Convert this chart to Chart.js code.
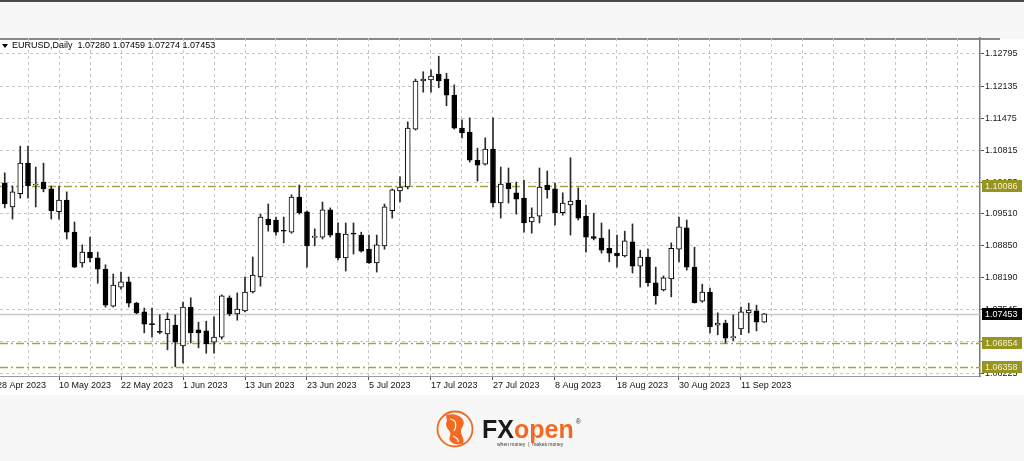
<!DOCTYPE html>
<html>
<head>
<meta charset="utf-8">
<script src="https://cdn.jsdelivr.net/npm/chart.js@4.4.0/dist/chart.umd.min.js"></script>
<style>
  html, body { margin: 0; padding: 0; background: #f7f7f7; }
  canvas { display: block; }
</style>
</head>
<body>
<canvas id="eurusdChart" width="1024" height="461"></canvas>
<script>
// EURUSD daily bars, 1 May - 14 Sep 2023
const dates = [
  '1 May', '2 May', '3 May', '4 May', '5 May', '8 May', '9 May', '10 May', '11 May', '12 May',
  '15 May', '16 May', '17 May', '18 May', '19 May', '22 May', '23 May', '24 May', '25 May', '26 May',
  '29 May', '30 May', '31 May', '1 Jun', '2 Jun', '5 Jun', '6 Jun', '7 Jun', '8 Jun', '9 Jun',
  '12 Jun', '13 Jun', '14 Jun', '15 Jun', '16 Jun', '19 Jun', '20 Jun', '21 Jun', '22 Jun', '23 Jun',
  '26 Jun', '27 Jun', '28 Jun', '29 Jun', '30 Jun', '3 Jul', '4 Jul', '5 Jul', '6 Jul', '7 Jul',
  '10 Jul', '11 Jul', '12 Jul', '13 Jul', '14 Jul', '17 Jul', '18 Jul', '19 Jul', '20 Jul', '21 Jul',
  '24 Jul', '25 Jul', '26 Jul', '27 Jul', '28 Jul', '31 Jul', '1 Aug', '2 Aug', '3 Aug', '4 Aug',
  '7 Aug', '8 Aug', '9 Aug', '10 Aug', '11 Aug', '14 Aug', '15 Aug', '16 Aug', '17 Aug', '18 Aug',
  '21 Aug', '22 Aug', '23 Aug', '24 Aug', '25 Aug', '28 Aug', '29 Aug', '30 Aug', '31 Aug', '1 Sep',
  '4 Sep', '5 Sep', '6 Sep', '7 Sep', '8 Sep', '11 Sep', '12 Sep', '13 Sep', '14 Sep'
];

const opens = [
  1.1014, 1.0965, 1.0992, 1.1055, 1.1010, 1.1016, 1.1002, 1.0955, 1.0979, 1.0913,
  1.0850, 1.0872, 1.0860, 1.0837, 1.0761, 1.0800, 1.0811, 1.0767, 1.0749, 1.0724,
  1.0709, 1.0704, 1.0722, 1.0679, 1.0759, 1.0712, 1.0710, 1.0687, 1.0697, 1.0778,
  1.0745, 1.0751, 1.0790, 1.0821, 1.0940, 1.0938, 1.0916, 1.0913, 1.0985, 1.0955,
  1.0902, 1.0903, 1.0959, 1.0911, 1.0860, 1.0910, 1.0907, 1.0878, 1.0850, 1.0885,
  1.0957, 1.0998, 1.1006, 1.1125, 1.1224, 1.1226, 1.1238, 1.1228, 1.1195, 1.1127,
  1.1119, 1.1061, 1.1053, 1.1084, 1.0973, 1.1014, 1.0994, 1.0983, 1.0934, 1.0946,
  1.1010, 1.1002, 1.0953, 1.0969, 1.0979, 1.0946, 1.0904, 1.0901, 1.0880, 1.0870,
  1.0864, 1.0893, 1.0843, 1.0862, 1.0809, 1.0794, 1.0817, 1.0878, 1.0922, 1.0841,
  1.0771, 1.0790, 1.0722, 1.0726, 1.0696, 1.0714, 1.0747, 1.0751, 1.07280
];
const highs = [
  1.1035, 1.1008, 1.1090, 1.1090, 1.1047, 1.1055, 1.1008, 1.1008, 1.0996, 1.0934,
  1.0887, 1.0903, 1.0872, 1.0846, 1.0827, 1.0831, 1.0821, 1.0769, 1.0757, 1.0757,
  1.0743, 1.0747, 1.0743, 1.0769, 1.0778, 1.0728, 1.0730, 1.0739, 1.0784, 1.0782,
  1.0788, 1.0821, 1.0862, 1.0950, 1.0971, 1.0944, 1.0944, 1.0990, 1.1010, 1.0957,
  1.0920, 1.0975, 1.0963, 1.0932, 1.0932, 1.0932, 1.0913, 1.0907, 1.0907, 1.0971,
  1.1002, 1.1027, 1.1140, 1.1228, 1.1243, 1.1247, 1.1275, 1.1240, 1.1216, 1.1144,
  1.1148, 1.1086, 1.1107, 1.1148, 1.1047, 1.1045, 1.1016, 1.1020, 1.0963, 1.1045,
  1.1039, 1.1014, 1.0994, 1.1066, 1.1004, 1.0969, 1.0952, 1.0932, 1.0918, 1.0907,
  1.0915, 1.0930, 1.0876, 1.0878, 1.0841, 1.0823, 1.0891, 1.0944, 1.0938, 1.0882,
  1.0806, 1.0798, 1.0747, 1.0732, 1.0743, 1.0759, 1.0767, 1.0763, 1.07459
];
const lows = [
  1.0963, 1.0940, 1.0983, 1.0983, 1.0965, 1.0996, 1.0940, 1.0940, 1.0899, 1.0840,
  1.0841, 1.0852, 1.0808, 1.0759, 1.0759, 1.0796, 1.0759, 1.0745, 1.0706, 1.0697,
  1.0704, 1.0671, 1.0636, 1.0644, 1.0685, 1.0675, 1.0664, 1.0664, 1.0693, 1.0741,
  1.0732, 1.0749, 1.0788, 1.0802, 1.0915, 1.0907, 1.0891, 1.0911, 1.0950, 1.0841,
  1.0885, 1.0899, 1.0903, 1.0856, 1.0833, 1.0868, 1.0872, 1.0849, 1.0831, 1.0878,
  1.0942, 1.0975, 1.1002, 1.1123, 1.1201, 1.1201, 1.1210, 1.1173, 1.1125, 1.1107,
  1.1057, 1.1018, 1.1051, 1.0965, 1.0942, 1.0973, 1.0950, 1.0913, 1.0911, 1.0932,
  1.0983, 1.0928, 1.0948, 1.0907, 1.0938, 1.0872, 1.0897, 1.0870, 1.0852, 1.0841,
  1.0862, 1.0829, 1.0800, 1.0802, 1.0765, 1.0792, 1.0780, 1.0852, 1.0835, 1.0767,
  1.0769, 1.0706, 1.0702, 1.0685, 1.0690, 1.0702, 1.0706, 1.0710, 1.07274
];
const closes = [
  1.0971, 1.0996, 1.1055, 1.1008, 1.1012, 1.1002, 1.0957, 1.0979, 1.0913, 1.0841,
  1.0872, 1.0860, 1.0837, 1.0763, 1.0804, 1.0811, 1.0767, 1.0747, 1.0724, 1.0723,
  1.0707, 1.0734, 1.0687, 1.0759, 1.0706, 1.0706, 1.0683, 1.0697, 1.0782, 1.0745,
  1.0755, 1.0790, 1.0825, 1.0944, 1.0928, 1.0913, 1.0915, 1.0985, 1.0953, 1.0885,
  1.0905, 1.0959, 1.0907, 1.0860, 1.0909, 1.0909, 1.0874, 1.0850, 1.0887, 1.0965,
  1.1000, 1.1006, 1.1127, 1.1224, 1.1228, 1.1234, 1.1224, 1.1195, 1.1127, 1.1117,
  1.1061, 1.1051, 1.1084, 1.0973, 1.1012, 1.1002, 1.0981, 1.0932, 1.0944, 1.1006,
  1.1000, 1.0953, 1.0973, 1.0977, 1.0942, 1.0903, 1.0900, 1.0876, 1.0870, 1.0864,
  1.0895, 1.0843, 1.0862, 1.0809, 1.0782, 1.0819, 1.0880, 1.0924, 1.0841, 1.0768,
  1.0790, 1.0718, 1.0726, 1.0695, 1.0698, 1.0749, 1.0753, 1.0728, 1.07453
];

// date labels under the chart, one every 8 bars starting one bar before 1 May
const xTickLabels = [
  '28 Apr 2023', '10 May 2023', '22 May 2023', '1 Jun 2023', '13 Jun 2023', '23 Jun 2023',
  '5 Jul 2023', '17 Jul 2023', '27 Jul 2023', '8 Aug 2023', '18 Aug 2023', '30 Aug 2023', '11 Sep 2023'
];
const yTicks = [1.12795, 1.12135, 1.11475, 1.10815, 1.10155, 1.09510, 1.08850, 1.08190, 1.07545, 1.06885, 1.06225];
const levels = [1.10086, 1.06854, 1.06358];
const lastPrice = 1.07453;
const header = 'EURUSD,Daily  1.07280 1.07459 1.07274 1.07453';

const FONT = '"Liberation Sans", Arial, sans-serif';
const labelIndex = v => ((v + 1) % 8 === 0) ? (v + 1) / 8 : -1;

// frame, level lines, axis boxes, header, logo
const mtDecor = {
  id: 'mtDecor',
  beforeDraw(chart) {
    const c = chart.ctx;
    c.save();
    c.fillStyle = '#f7f7f7';
    c.fillRect(0, 0, chart.width, chart.height);
    c.fillStyle = '#ffffff';
    c.fillRect(0, 39, chart.width, 356);
    c.fillStyle = '#4a4a4a';
    c.fillRect(0, 0, chart.width, 2);
    c.fillStyle = '#8a8a8a';
    c.fillRect(0, 38, 1000, 2);
    c.restore();
  },
  beforeDatasetsDraw(chart) {
    const c = chart.ctx, y = chart.scales.y, a = chart.chartArea;
    c.save();
    c.strokeStyle = '#c8c8c8';
    c.lineWidth = 1.5;
    const py = Math.round(y.getPixelForValue(lastPrice)) + 0.5;
    c.beginPath(); c.moveTo(a.left, py); c.lineTo(a.right, py); c.stroke();
    c.strokeStyle = '#aaa23a';
    c.lineWidth = 1.5;
    c.setLineDash([8, 3, 2, 3]);
    levels.forEach(v => {
      const ly = Math.round(y.getPixelForValue(v)) + 0.5;
      c.beginPath(); c.moveTo(a.left, ly); c.lineTo(a.right, ly); c.stroke();
    });
    c.restore();
  },
  afterDraw(chart) {
    const c = chart.ctx, y = chart.scales.y, a = chart.chartArea;
    c.save();
    c.font = '9px ' + FONT;
    c.textBaseline = 'middle';
    const box = (v, bg, fg) => {
      const by = Math.round(y.getPixelForValue(v));
      c.fillStyle = bg;
      c.fillRect(a.right + 2, by - 6, 40, 12);
      c.fillStyle = fg;
      c.fillText(v.toFixed(5), a.right + 5, by + 0.5);
    };
    levels.forEach(v => box(v, '#979420', '#f4f2d6'));
    box(lastPrice, '#000000', '#ffffff');

    // header line
    c.fillStyle = '#000';
    c.beginPath(); c.moveTo(2, 44); c.lineTo(8, 44); c.lineTo(5, 48); c.closePath(); c.fill();
    c.fillText(header, 12, 46);

    // FXOpen logo
    const orange = '#f26a21';
    c.strokeStyle = orange;
    c.lineWidth = 1.8;
    c.beginPath(); c.arc(455, 429, 17.5, 0, Math.PI * 2); c.stroke();
    c.fillStyle = orange;
    c.beginPath();
    c.moveTo(446, 415); c.bezierCurveTo(458, 412, 468, 420, 462, 428);
    c.bezierCurveTo(458, 433, 466, 438, 463, 444);
    c.bezierCurveTo(455, 446, 447, 442, 450, 436);
    c.bezierCurveTo(453, 431, 443, 428, 447, 421);
    c.closePath(); c.fill();
    c.strokeStyle = '#ffffff';
    c.lineWidth = 1.2;
    c.beginPath(); c.moveTo(450, 419); c.bezierCurveTo(458, 420, 456, 428, 454, 431); c.stroke();
    c.beginPath(); c.moveTo(453, 436); c.bezierCurveTo(457, 438, 459, 440, 458, 442); c.stroke();
    c.font = 'bold 25px ' + FONT;
    c.textBaseline = 'alphabetic';
    c.fillStyle = '#1a1a1a';
    c.fillText('FX', 482, 438);
    const fxw = c.measureText('FX').width;
    c.fillStyle = orange;
    c.fillText('open', 482 + fxw, 438);
    const ow = c.measureText('open').width;
    c.font = '7px ' + FONT;
    c.fillStyle = '#333';
    c.fillText('®', 484 + fxw + ow, 424);
    c.font = '5px ' + FONT;
    c.fillText('when money  |  makes money', 497, 446);
    c.restore();
  }
};

const wickData = dates.map((d, i) => ({ x: i, y: [lows[i], highs[i]] }));
const bodyData = dates.map((d, i) => ({ x: i, y: [opens[i], closes[i]] }));
const bodyFill = dates.map((d, i) => closes[i] >= opens[i] ? '#ffffff' : '#000000');

const config = {
  type: 'bar',
  data: {
    datasets: [
      {
        label: 'body',
        data: bodyData,
        backgroundColor: bodyFill,
        borderColor: '#000000',
        borderWidth: 1,
        borderSkipped: false,
        barThickness: 5,
        minBarLength: 1,
        grouped: false,
        order: 1
      },
      {
        label: 'wick',
        data: wickData,
        backgroundColor: '#2a2a2a',
        borderWidth: 0,
        barThickness: 1,
        grouped: false,
        order: 2
      }
    ]
  },
  options: {
    responsive: false,
    animation: false,
    layout: { padding: { top: 38, left: 0, right: 0, bottom: 0 } },
    scales: {
      x: {
        type: 'linear',
        bounds: 'data',
        offset: false,
        min: -0.613,
        max: 125.839,
        afterBuildTicks: axis => {
          const t = [];
          for (let v = -1; v <= 125; v += 4) t.push({ value: v });
          axis.ticks = t;
        },
        afterFit: axis => {
          axis.height = 85;
          axis.paddingLeft = 0;
          axis.paddingRight = 0;
        },
        ticks: {
          autoSkip: false,
          maxRotation: 0,
          align: 'start',
          padding: 0,
          color: '#111',
          font: { family: FONT, size: 9 },
          callback: v => {
            const k = labelIndex(v);
            return k >= 0 && k < xTickLabels.length ? xTickLabels[k] : '';
          }
        },
        grid: {
          offset: false,
          color: '#c6c6c6',
          tickLength: 4,
          tickColor: ctx => {
            const k = labelIndex(ctx.tick.value);
            return k >= 0 && k < xTickLabels.length ? '#555' : 'rgba(0,0,0,0)';
          }
        },
        border: { color: '#9a9a9a', width: 1, dash: [3, 3] }
      },
      y: {
        type: 'linear',
        position: 'right',
        bounds: 'data',
        min: 1.06172,
        max: 1.13124,
        afterBuildTicks: axis => { axis.ticks = yTicks.map(v => ({ value: v })); },
        afterFit: axis => {
          axis.width = 44;
          axis.paddingTop = 0;
          axis.paddingBottom = 0;
        },
        ticks: {
          autoSkip: false,
          padding: 1,
          color: '#1a1a1a',
          font: { family: FONT, size: 9 },
          callback: v => v.toFixed(5)
        },
        grid: { color: '#c6c6c6', tickLength: 4, tickColor: '#555' },
        border: { color: '#7a7a7a', width: 1.5, dash: [3, 3] }
      }
    },
    plugins: {
      legend: { display: false },
      tooltip: { enabled: false }
    }
  },
  plugins: [mtDecor]
};

new Chart(document.getElementById('eurusdChart').getContext('2d'), config);
</script>
</body>
</html>
